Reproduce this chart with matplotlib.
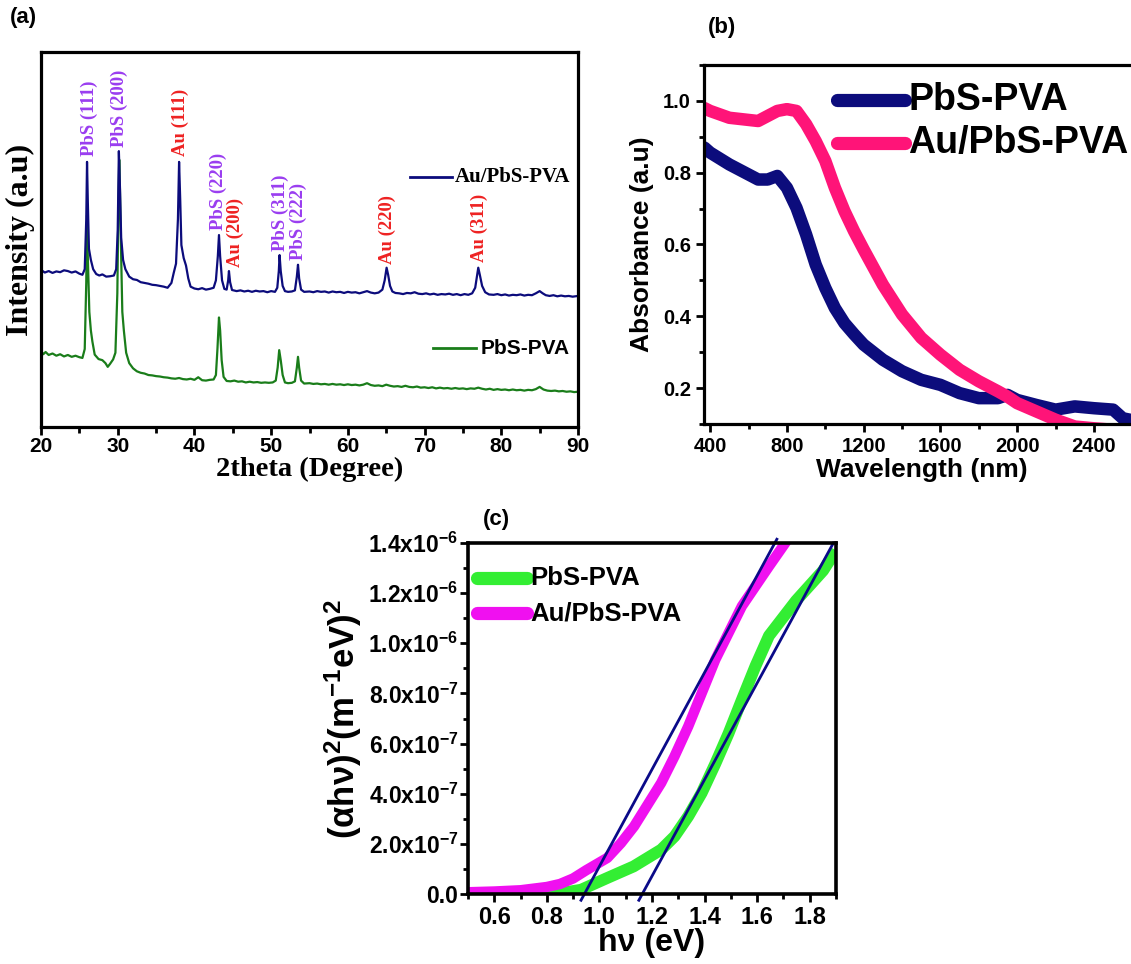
import numpy as np
import matplotlib
matplotlib.use("Agg")
import matplotlib.pyplot as plt
from matplotlib import font_manager
from matplotlib.ticker import MultipleLocator, FixedLocator, FixedFormatter

# ---------------------------------------------------------------- data
# (a) XRD patterns, 2theta (deg) / intensity (a.u., offset stacked)
xrd_au_pbs = [
    (20.0, 41.3), (20.5, 40.6), (21.0, 41.0), (21.5, 40.5), (22.0, 40.9), (22.5, 40.7),
    (23.0, 41.2), (23.5, 41.0), (24.0, 40.6), (24.5, 40.9), (25.0, 40.3), (25.4, 40.0),
    (25.7, 41.5), (25.9, 55.0), (26.0, 70.4), (26.1, 60.0), (26.25, 47.0), (26.5, 44.0),
    (26.8, 41.5), (27.2, 40.2), (27.6, 39.8), (28.0, 40.1), (28.5, 39.5), (29.0, 39.6),
    (29.5, 39.8), (29.8, 41.5), (30.0, 52.0), (30.15, 73.3), (30.3, 63.0), (30.45, 50.0),
    (30.7, 44.0), (31.0, 41.5), (31.5, 39.5), (32.0, 38.8), (32.5, 38.6), (33.0, 38.0),
    (33.5, 37.8), (34.0, 37.6), (34.5, 37.3), (35.0, 37.2), (35.5, 37.0), (36.0, 36.8),
    (36.5, 36.5), (37.0, 37.8), (37.3, 40.5), (37.6, 43.0), (37.85, 55.0), (38.0, 70.4),
    (38.15, 60.0), (38.3, 48.0), (38.6, 44.5), (38.9, 42.5), (39.2, 39.0), (39.5, 36.8),
    (40.0, 36.3), (40.5, 36.1), (41.0, 36.4), (41.5, 36.0), (42.0, 36.2), (42.5, 36.5),
    (42.8, 38.5), (43.05, 45.0), (43.2, 50.7), (43.35, 45.0), (43.6, 38.5), (43.9, 36.2),
    (44.2, 36.0), (44.4, 38.5), (44.5, 41.0), (44.65, 38.0), (44.9, 35.9), (45.5, 35.6),
    (46.0, 35.8), (46.5, 35.5), (47.0, 35.7), (47.5, 35.4), (48.0, 35.7), (48.5, 35.5),
    (49.0, 35.6), (49.5, 35.3), (50.0, 35.6), (50.5, 35.4), (50.8, 36.5), (51.0, 41.0),
    (51.1, 45.3), (51.25, 41.0), (51.5, 37.0), (51.8, 35.6), (52.2, 35.4), (52.7, 35.5),
    (53.1, 35.8), (53.35, 39.5), (53.5, 42.7), (53.65, 39.0), (53.9, 36.0), (54.3, 35.4),
    (55.0, 35.5), (55.5, 35.3), (56.0, 35.6), (56.5, 35.4), (57.0, 35.5), (57.5, 35.2),
    (58.0, 35.5), (58.5, 35.3), (59.0, 35.4), (59.5, 35.1), (60.0, 35.4), (60.5, 35.2),
    (61.0, 35.3), (61.5, 35.0), (62.0, 35.3), (62.5, 35.6), (63.0, 35.2), (63.5, 35.0),
    (64.0, 35.2), (64.5, 36.0), (64.8, 38.5), (65.05, 41.9), (65.25, 40.0), (65.5, 37.0),
    (65.8, 35.5), (66.2, 35.1), (66.7, 35.0), (67.2, 34.8), (67.7, 35.1), (68.2, 35.0),
    (68.7, 35.3), (69.2, 34.9), (69.7, 34.8), (70.2, 35.0), (70.7, 34.7), (71.2, 34.9),
    (71.7, 34.6), (72.2, 34.8), (72.7, 34.7), (73.2, 34.9), (73.7, 34.6), (74.2, 34.8),
    (74.7, 34.5), (75.2, 34.8), (75.7, 34.6), (76.2, 35.0), (76.6, 36.5), (76.85, 40.0),
    (77.0, 41.9), (77.2, 40.0), (77.5, 37.0), (77.9, 35.3), (78.4, 34.7), (79.0, 34.6),
    (79.5, 34.8), (80.0, 34.5), (80.5, 34.7), (81.0, 34.4), (81.5, 34.6), (82.0, 34.5),
    (82.5, 34.7), (83.0, 34.4), (83.5, 34.6), (84.0, 34.5), (84.5, 35.0), (85.0, 35.6),
    (85.4, 35.0), (85.8, 34.5), (86.3, 34.3), (86.8, 34.5), (87.3, 34.2), (87.8, 34.4),
    (88.3, 34.2), (88.8, 34.3), (89.3, 34.1), (90.0, 34.3),
]
xrd_pbs = [
    (20.0, 19.5), (20.3, 18.6), (20.6, 19.2), (21.0, 18.4), (21.5, 18.8), (22.0, 18.2),
    (22.5, 18.6), (23.0, 18.0), (23.5, 18.4), (24.0, 17.9), (24.5, 18.2), (25.0, 17.8),
    (25.4, 17.6), (25.7, 20.0), (25.9, 38.0), (26.0, 56.0), (26.1, 45.0), (26.3, 30.0),
    (26.5, 25.0), (26.7, 22.0), (27.0, 18.5), (27.5, 17.3), (28.0, 17.0), (28.4, 16.2),
    (28.7, 15.2), (29.0, 16.0), (29.4, 17.2), (29.7, 19.0), (29.95, 35.0), (30.1, 60.0),
    (30.2, 71.0), (30.3, 62.0), (30.45, 45.0), (30.6, 30.0), (30.8, 25.0), (31.1, 19.0),
    (31.5, 16.2), (32.0, 14.8), (32.5, 14.0), (33.0, 13.6), (33.5, 13.4), (34.0, 13.0),
    (34.5, 12.9), (35.0, 12.7), (35.5, 12.6), (36.0, 12.4), (36.5, 12.3), (37.0, 12.1),
    (37.5, 12.0), (38.0, 12.2), (38.5, 11.9), (39.0, 11.8), (39.5, 12.0), (40.0, 11.7),
    (40.5, 12.4), (41.0, 11.6), (41.5, 11.5), (42.0, 11.7), (42.5, 11.8), (42.8, 13.0),
    (43.0, 20.0), (43.2, 28.5), (43.35, 25.0), (43.55, 17.0), (43.8, 12.5), (44.2, 11.4),
    (44.7, 11.3), (45.2, 11.5), (45.7, 11.2), (46.2, 11.3), (46.7, 11.0), (47.2, 11.2),
    (47.7, 11.0), (48.2, 11.1), (48.7, 10.9), (49.2, 11.0), (49.7, 10.9), (50.2, 11.0),
    (50.6, 11.5), (50.85, 15.0), (51.05, 19.7), (51.25, 17.0), (51.5, 13.0), (51.8, 11.0),
    (52.2, 10.8), (52.7, 10.9), (53.1, 11.3), (53.35, 15.0), (53.5, 17.9), (53.65, 15.0),
    (53.9, 11.5), (54.3, 10.7), (55.0, 10.8), (55.5, 10.6), (56.0, 10.7), (56.5, 10.5),
    (57.0, 10.6), (57.5, 10.4), (58.0, 10.6), (58.5, 10.4), (59.0, 10.5), (59.5, 10.3),
    (60.0, 10.5), (60.5, 10.3), (61.0, 10.4), (61.5, 10.2), (62.0, 10.4), (62.5, 10.8),
    (63.0, 10.3), (63.5, 10.1), (64.0, 10.2), (64.5, 10.0), (65.0, 10.4), (65.5, 10.1),
    (66.0, 9.9), (66.5, 10.0), (67.0, 9.8), (67.5, 10.1), (68.0, 9.8), (68.5, 9.7),
    (69.0, 9.9), (69.5, 9.6), (70.0, 9.7), (70.5, 9.5), (71.0, 9.7), (71.5, 9.4),
    (72.0, 9.6), (72.5, 9.4), (73.0, 9.5), (73.5, 9.3), (74.0, 9.5), (74.5, 9.3),
    (75.0, 9.4), (75.5, 9.2), (76.0, 9.4), (76.5, 9.3), (77.0, 9.6), (77.5, 9.3),
    (78.0, 9.1), (78.5, 9.3), (79.0, 9.0), (79.5, 9.2), (80.0, 9.0), (80.5, 9.1),
    (81.0, 8.9), (81.5, 9.1), (82.0, 8.9), (82.5, 9.0), (83.0, 8.8), (83.5, 9.0),
    (84.0, 8.9), (84.5, 9.2), (85.0, 9.8), (85.5, 9.1), (86.0, 8.8), (86.5, 8.7),
    (87.0, 8.8), (87.5, 8.6), (88.0, 8.7), (88.5, 8.5), (89.0, 8.6), (89.5, 8.4),
    (90.0, 8.5),
]
# reflection labels: text, 2theta position, label base height, phase
peak_labels = ["PbS (111)", "PbS (200)", "Au (111)", "PbS (220)", "Au (200)",
               "PbS (311)", "PbS (222)", "Au (220)", "Au (311)"]
peak_pos = [26.3, 30.2, 38.1, 43.1, 45.3, 51.2, 53.6, 65.2, 77.1]
peak_base = [72.0, 74.5, 72.0, 52.0, 42.0, 46.5, 44.0, 43.0, 43.5]
peak_phase = ["PbS", "PbS", "Au", "PbS", "Au", "PbS", "PbS", "Au", "Au"]

# (b) UV-Vis-NIR absorbance
wl_nm = [370, 400, 500, 600, 650, 700, 750, 800, 850, 900, 950, 1000, 1050, 1100,
         1150, 1200, 1300, 1400, 1500, 1600, 1700, 1800, 1900, 1950, 2000, 2100,
         2200, 2300, 2400, 2500, 2550, 2650]
abs_pbs = [0.870, 0.856, 0.823, 0.795, 0.781, 0.781, 0.791, 0.758, 0.702, 0.628,
           0.544, 0.479, 0.423, 0.381, 0.350, 0.321, 0.279, 0.247, 0.223, 0.209,
           0.186, 0.172, 0.172, 0.181, 0.167, 0.153, 0.140, 0.149, 0.144, 0.140,
           0.116, 0.105]
abs_au_pbs = [0.980, 0.972, 0.953, 0.947, 0.944, 0.958, 0.972, 0.977, 0.972, 0.935,
              0.888, 0.833, 0.758, 0.693, 0.637, 0.586, 0.488, 0.405, 0.340, 0.293,
              0.251, 0.219, 0.191, 0.176, 0.158, 0.135, 0.112, 0.093, 0.088, 0.084,
              0.082, 0.080]

# (c) Tauc plot, (alpha h nu)^2 in units of 1e-7
hv_pbs = [0.50, 0.70, 0.83, 0.93, 1.03, 1.13, 1.235, 1.286, 1.338, 1.389, 1.441,
          1.491, 1.542, 1.594, 1.645, 1.748, 1.851, 1.90]
tauc_pbs = [-0.05, -0.05, 0.0, 0.17, 0.64, 1.10, 1.77, 2.30, 3.10, 4.03, 5.20,
            6.40, 7.75, 9.10, 10.30, 11.70, 12.90, 13.70]
hv_au_pbs = [0.50, 0.60, 0.70, 0.80, 0.85, 0.90, 0.95, 1.03, 1.082, 1.132, 1.235,
             1.286, 1.338, 1.441, 1.542, 1.645, 1.707, 1.73]
tauc_au_pbs = [0.07, 0.10, 0.15, 0.28, 0.40, 0.62, 0.95, 1.44, 2.03, 2.70, 4.43,
               5.50, 6.69, 9.35, 11.48, 13.07, 14.00, 14.40]
# linear extrapolations to the energy axis (end points)
fit_pbs_x = [1.150, 1.890]
fit_pbs_y = [-0.25, 14.0]
fit_au_pbs_x = [0.930, 1.675]
fit_au_pbs_y = [-0.25, 14.15]
tauc_ticks = [0.0, 2e-7, 4e-7, 6e-7, 8e-7, 1.0e-6, 1.2e-6, 1.4e-6]
tauc_tick_labels = ["0.0", "2.0x10$^{-7}$", "4.0x10$^{-7}$", "6.0x10$^{-7}$",
                    "8.0x10$^{-7}$", "1.0x10$^{-6}$", "1.2x10$^{-6}$", "1.4x10$^{-6}$"]

# ---------------------------------------------------------------- style
names = {f.name for f in font_manager.fontManager.ttflist}
SANS = "Liberation Sans"
NARROW = "Liberation Sans Narrow" if "Liberation Sans Narrow" in names else SANS
SERIF = "Liberation Serif"
plt.rcParams["font.family"] = [SANS, "DejaVu Sans"]
plt.rcParams["font.weight"] = "bold"
plt.rcParams["mathtext.default"] = "regular"

NAVY = "#0c0c7c"
GREEN_A = "#1a7d1a"
PURPLE = "#9a3df0"
RED = "#ee2222"
PINK = "#ff1478"
LIME = "#33ee33"
MAGENTA = "#f010f0"
FIT = "#0a0a88"

W, H = 1131, 964
fig = plt.figure(figsize=(W / 100, H / 100), dpi=100)


def px_axes(left, right, top, bottom):
    return fig.add_axes([left / W, 1 - bottom / H, (right - left) / W, (bottom - top) / H])


def frame(ax, lw=2.3):
    for s in ax.spines.values():
        s.set_linewidth(lw)
        s.set_color("black")


# ---------------------------------------------------------------- (a)
axa = px_axes(41, 578, 52, 427)
frame(axa)
xa, ya = np.array(xrd_pbs).T
axa.plot(xa, ya, color=GREEN_A, lw=1.6)
xb, yb = np.array(xrd_au_pbs).T
axa.plot(xb, yb, color=NAVY, lw=1.6)
axa.set_xlim(20, 90)
axa.set_ylim(-1, 100)
axa.xaxis.set_major_locator(MultipleLocator(10))
axa.xaxis.set_minor_locator(MultipleLocator(5))
axa.tick_params(axis="x", which="major", direction="out", length=6, width=2, pad=1.5,
                top=False)
axa.tick_params(axis="x", which="minor", direction="out", length=4, width=2, top=False)
axa.set_yticks([])
for lab in axa.get_xticklabels():
    lab.set_fontfamily(NARROW)
    lab.set_fontsize(15)
    lab.set_fontweight("bold")
axa.set_xlabel("2theta (Degree)", family=SERIF, fontsize=20.5, fontweight="bold",
               labelpad=0)
axa.set_ylabel("Intensity (a.u)", family=SERIF, fontsize=23, fontweight="bold", labelpad=4)

for txt, pos, base, ph in zip(peak_labels, peak_pos, peak_base, peak_phase):
    axa.text(pos, base, txt, rotation=90, ha="center", va="bottom", family=SERIF,
             fontsize=13.5, fontweight="bold", color=PURPLE if ph == "PbS" else RED)

axa.plot([0.688, 0.765], [0.667, 0.667], transform=axa.transAxes, color=NAVY, lw=2)
axa.text(0.771, 0.667, "Au/PbS-PVA", transform=axa.transAxes, va="center", ha="left",
         family=SERIF, fontsize=15, fontweight="bold")
axa.plot([0.730, 0.810], [0.21, 0.21], transform=axa.transAxes, color=GREEN_A, lw=2)
axa.text(0.818, 0.21, "PbS-PVA", transform=axa.transAxes, va="center", ha="left",
         family=NARROW, fontsize=15, fontweight="bold")

fig.text(10 / W, 1 - 18 / H, "(a)", fontsize=16, fontweight="bold", va="center", ha="left")

# ---------------------------------------------------------------- (b)
axb = px_axes(704, 1140, 65, 424)
frame(axb)
axb.plot(wl_nm, abs_pbs, color=NAVY, lw=9, solid_capstyle="round")
axb.plot(wl_nm, abs_au_pbs, color=PINK, lw=9, solid_capstyle="round")
axb.set_xlim(368, 2640)
axb.set_ylim(0.1, 1.1)
axb.xaxis.set_major_locator(MultipleLocator(400))
axb.xaxis.set_minor_locator(MultipleLocator(200))
axb.yaxis.set_major_locator(FixedLocator([0.2, 0.4, 0.6, 0.8, 1.0]))
axb.yaxis.set_minor_locator(MultipleLocator(0.1))
axb.tick_params(which="major", direction="out", length=6, width=2, labelsize=14.5,
                top=False, right=False)
axb.tick_params(which="minor", direction="out", length=3.5, width=2, top=False, right=False)
axb.set_xlabel("Wavelength (nm)", fontsize=19, fontweight="bold", labelpad=1)
axb.set_ylabel("Absorbance (a.u)", fontsize=19, fontweight="bold", labelpad=6)

for yy, col, lab in [(0.903, NAVY, "PbS-PVA"), (0.783, PINK, "Au/PbS-PVA")]:
    axb.plot([0.305, 0.46], [yy, yy], transform=axb.transAxes, color=col, lw=9.5,
             solid_capstyle="round")
    axb.text(0.468, yy, lab, transform=axb.transAxes, va="center", ha="left",
             fontsize=27, fontweight="bold")

fig.text(708 / W, 1 - 28 / H, "(b)", fontsize=16, fontweight="bold", va="center", ha="left")

# ---------------------------------------------------------------- (c)
axc = px_axes(468, 836, 543, 894)
frame(axc, lw=2.6)
scale = 1e-7
axc.plot(hv_pbs, np.array(tauc_pbs) * scale, color=LIME, lw=8.5, solid_capstyle="butt")
axc.plot(hv_au_pbs, np.array(tauc_au_pbs) * scale, color=MAGENTA, lw=7.5,
         solid_capstyle="butt")
axc.plot(fit_pbs_x, np.array(fit_pbs_y) * scale, color=FIT, lw=2, clip_on=False)
axc.plot(fit_au_pbs_x, np.array(fit_au_pbs_y) * scale, color=FIT, lw=2, clip_on=False)
axc.set_xlim(0.5, 1.9)
axc.set_ylim(0, 1.4e-6)
axc.xaxis.set_major_locator(MultipleLocator(0.2))
axc.xaxis.set_minor_locator(MultipleLocator(0.1))
axc.yaxis.set_major_locator(FixedLocator(tauc_ticks))
axc.yaxis.set_major_formatter(FixedFormatter(tauc_tick_labels))
axc.yaxis.set_minor_locator(MultipleLocator(1e-7))
axc.tick_params(which="major", direction="out", length=6, width=2, labelsize=16.5,
                top=False, right=False, pad=1)
axc.tick_params(which="minor", direction="out", length=3.5, width=2, top=False, right=False)
axc.set_xticks([0.6, 0.8, 1.0, 1.2, 1.4, 1.6, 1.8])
axc.set_xticklabels(["0.6", "0.8", "1.0", "1.2", "1.4", "1.6", "1.8"])
axc.tick_params(axis="x", labelsize=17, pad=3)
axc.set_xlabel("h\u03bd (eV)", fontsize=23, fontweight="bold", labelpad=-1)
axc.set_ylabel("(\u03b1h\u03bd)$^{2}$(m$^{-1}$eV)$^{2}$", fontsize=25, fontweight="bold",
               labelpad=3)

for yy, col, lab in [(0.90, LIME, "PbS-PVA"), (0.80, MAGENTA, "Au/PbS-PVA")]:
    axc.plot([0.025, 0.16], [yy, yy], transform=axc.transAxes, color=col, lw=9.5,
             solid_capstyle="round")
    axc.text(0.17, yy, lab, transform=axc.transAxes, va="center", ha="left",
             fontsize=18.5, fontweight="bold")

fig.text(483 / W, 1 - 520 / H, "(c)", fontsize=16, fontweight="bold", va="center", ha="left")

fig.savefig("out.png", dpi=100)
